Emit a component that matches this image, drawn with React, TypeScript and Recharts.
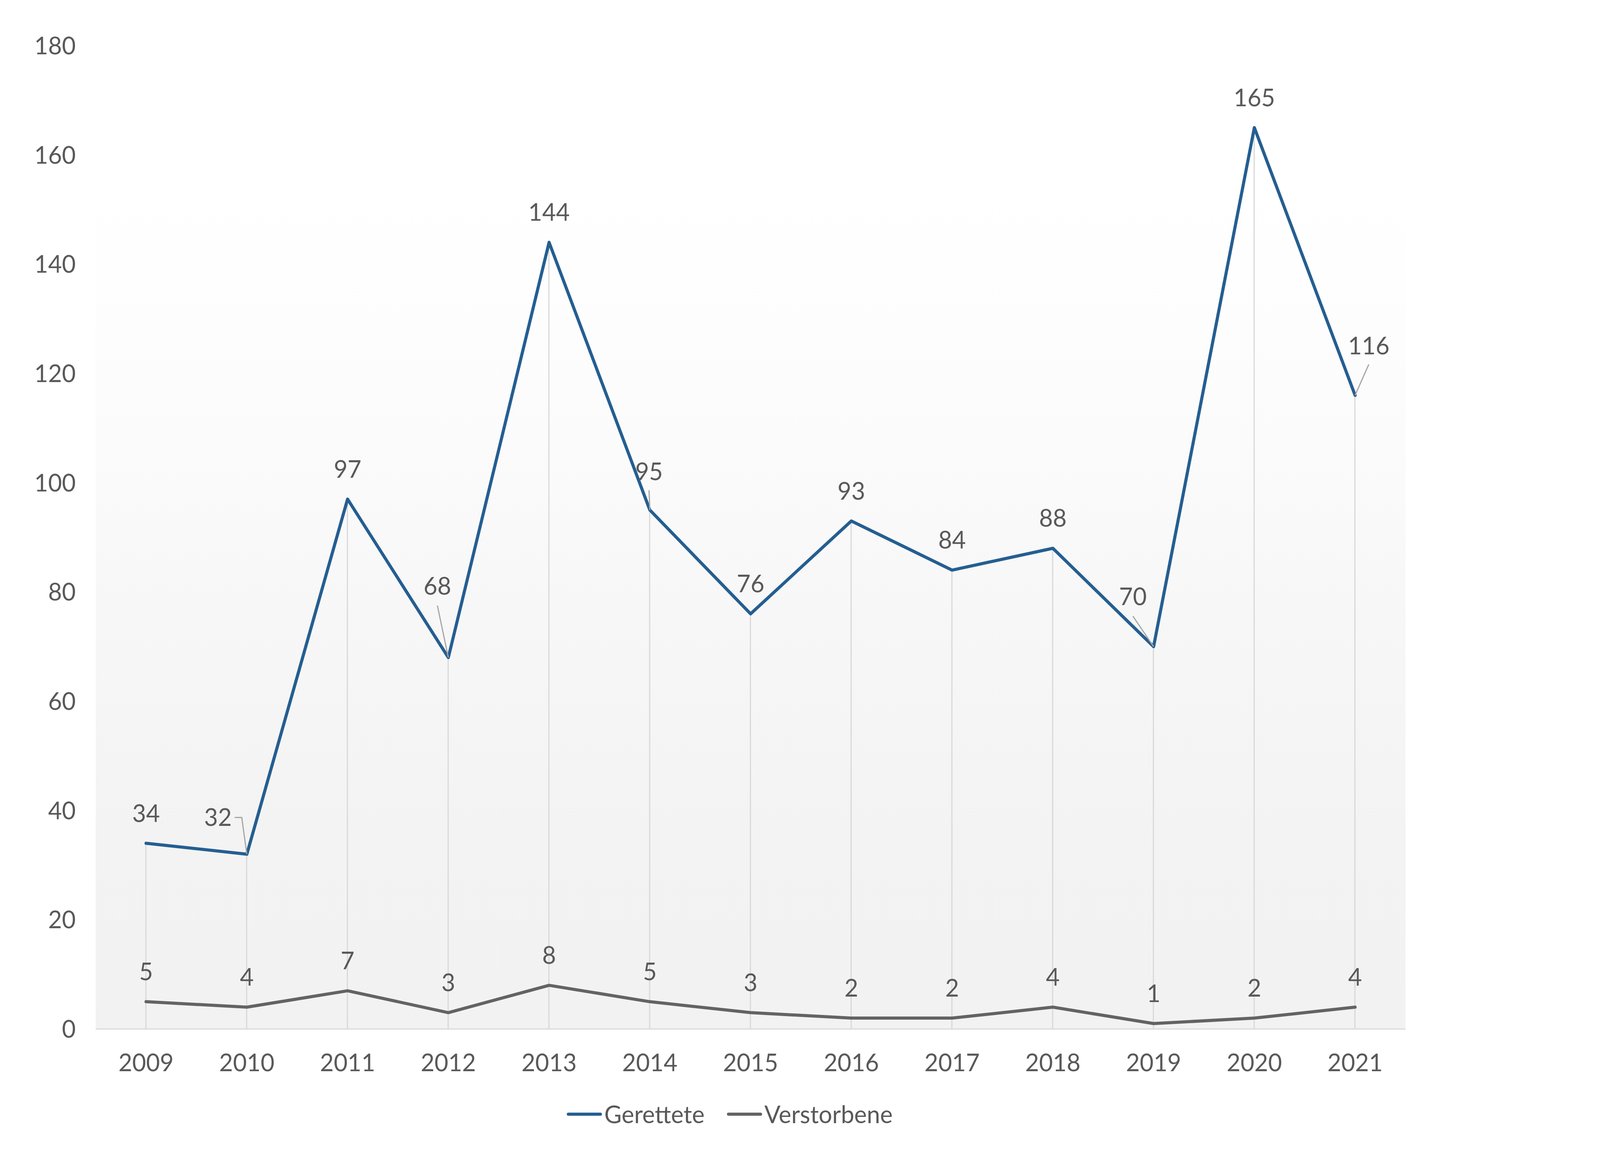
import React from 'react';
import { ComposedChart, Line, Bar, XAxis, YAxis, CartesianGrid, Legend } from 'recharts';

const years = ['2009', '2010', '2011', '2012', '2013', '2014', '2015', '2016', '2017', '2018', '2019', '2020', '2021'];
const gerettete = [34, 32, 97, 68, 144, 95, 76, 93, 84, 88, 70, 165, 116];
const verstorbene = [5, 4, 7, 3, 8, 5, 3, 2, 2, 4, 1, 2, 4];
const yTicks = [0, 20, 40, 60, 80, 100, 120, 140, 160, 180];
const seriesNames = ['Gerettete', 'Verstorbene'];

const data = years.map((y, i) => ({ year: y, Gerettete: gerettete[i], Verstorbene: verstorbene[i] }));

// The browser viewport is 4096 px wide; horizontal layout is scaled to it.
const W = 4096;
const H = 3000;

// label placement styles (offset of label centre from its point, optional leader line)
type Off = { dx: number; dy: number; leader?: number[][] };
const D: Off = { dx: 0, dy: -77 };
const geretteteLabelOffsets: Off[] = [
  D,
  { dx: -74, dy: -94, leader: [[-31, -94], [-13, -94], [0, 0]] },
  D,
  { dx: -28, dy: -183, leader: [[-28, -133], [0, 0]] },
  D,
  { dx: -2, dy: -99, leader: [[-2, -51], [0, 0]] },
  D,
  D,
  D,
  D,
  { dx: -53, dy: -128, leader: [[-53, -78], [0, 0]] },
  D,
  { dx: 35, dy: -127, leader: [[35, -79], [0, 0]] },
];

const COLORS = { Gerettete: '#255E91', Verstorbene: '#636363' } as Record<string, string>;
const TEXT = '#595959';
const FONT = "Lato, 'Noto Sans', sans-serif";
const FS = 61;
const SW = 8;

const makeLabel = (offsets: Off[] | null) => (p: any) => {
  const { x, y, value, index } = p;
  if (x == null || y == null) return null;
  const o = (offsets && offsets[index]) || D;
  return (
    <g key={`lbl-${index}`}>
      {o.leader && (
        <polyline
          points={o.leader.map(([a, b]) => `${x + a},${y + b}`).join(' ')}
          fill="none"
          stroke="#A6A6A6"
          strokeWidth={3}
        />
      )}
      <text x={x + o.dx} y={y + o.dy} dy="0.36em" textAnchor="middle" fill={TEXT} fontFamily={FONT} fontSize={FS}>
        {value}
      </text>
    </g>
  );
};

const XTick = (p: any) => (
  <text x={p.x} y={p.y} dy="0.36em" textAnchor="middle" fill={TEXT} fontFamily={FONT} fontSize={FS}>
    {p.payload.value}
  </text>
);

const YTick = (p: any) => (
  <text x={p.x} y={p.y} dy="0.36em" textAnchor="end" fill={TEXT} fontFamily={FONT} fontSize={FS}>
    {p.payload.value}
  </text>
);

const LegendContent = () => (
  <div style={{ display: 'flex', alignItems: 'center', height: 80, fontFamily: FONT, fontSize: FS, color: TEXT, whiteSpace: 'nowrap' }}>
    {seriesNames.map((n, i) => (
      <div key={n} style={{ display: 'flex', alignItems: 'center', marginLeft: i === 0 ? 0 : 57 }}>
        <svg width={90} height={12} style={{ display: 'block' }}>
          <line x1={4} y1={6} x2={86} y2={6} stroke={COLORS[n]} strokeWidth={SW} strokeLinecap="round" />
        </svg>
        <span style={{ marginLeft: 6, lineHeight: '80px' }}>{n}</span>
      </div>
    ))}
  </div>
);

export default function App() {
  return (
    <div style={{ position: 'absolute', left: 0, top: 0, width: W, height: H, background: '#fff' }}>
      <ComposedChart width={W} height={H} data={data} margin={{ top: 117, right: 498, left: 0, bottom: 108 }}>
        <defs>
          <linearGradient id="bgGrad" x1="0" y1="0" x2="0" y2="1">
            <stop offset="0" stopColor="#ffffff" />
            <stop offset="0.14" stopColor="#ffffff" />
            <stop offset="0.3" stopColor="#fdfdfd" />
            <stop offset="0.45" stopColor="#fafafa" />
            <stop offset="0.58" stopColor="#f7f7f7" />
            <stop offset="0.8" stopColor="#f3f3f3" />
            <stop offset="1" stopColor="#f2f2f2" />
          </linearGradient>
        </defs>
        <CartesianGrid horizontal={false} vertical={false} fill="url(#bgGrad)" />
        <XAxis
          dataKey="year"
          height={178}
          tickSize={0}
          tickMargin={86}
          tickLine={false}
          axisLine={{ stroke: '#D9D9D9', strokeWidth: 3 }}
          tick={<XTick />}
          interval={0}
        />
        <YAxis
          width={245}
          domain={[0, 180]}
          ticks={yTicks}
          tickSize={0}
          tickMargin={51}
          tickLine={false}
          axisLine={false}
          tick={<YTick />}
          interval={0}
        />
        <Legend
          verticalAlign="bottom"
          content={<LegendContent />}
          wrapperStyle={{ left: 1451, top: 2812, bottom: 'auto', width: 1000, height: 80 }}
        />
        <Bar dataKey="Gerettete" barSize={3} fill="#D9D9D9" legendType="none" isAnimationActive={false} />
        <Line
          dataKey="Verstorbene"
          stroke={COLORS.Verstorbene}
          strokeWidth={SW}
          strokeLinecap="round"
          strokeLinejoin="round"
          dot={false}
          activeDot={false}
          isAnimationActive={false}
          label={makeLabel(null)}
        />
        <Line
          dataKey="Gerettete"
          stroke={COLORS.Gerettete}
          strokeWidth={SW}
          strokeLinecap="round"
          strokeLinejoin="round"
          dot={false}
          activeDot={false}
          isAnimationActive={false}
          label={makeLabel(geretteteLabelOffsets)}
        />
      </ComposedChart>
    </div>
  );
}
